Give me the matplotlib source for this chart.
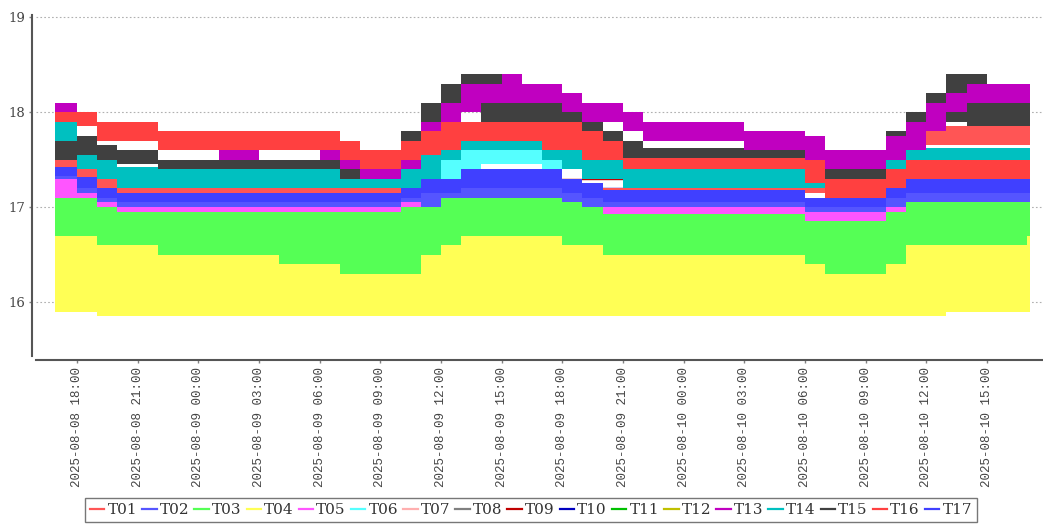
import matplotlib
matplotlib.use("Agg")
import matplotlib.pyplot as plt
import matplotlib.dates as mdates
from matplotlib.lines import Line2D
import numpy as np
import pandas as pd

# ---------------- data (visual envelopes) ----------------
# hourly intervals: first starts 2025-08-08 16:55, then every full hour 18:00 ... 2025-08-10 17:00
start_time = "2025-08-08 16:55"
hourly_start = "2025-08-08 18:00"
hourly_end = "2025-08-10 17:00"
end_time = "2025-08-10 17:08"

series_names = ["T01", "T02", "T03", "T04", "T05", "T06", "T07", "T08", "T09",
                "T10", "T11", "T12", "T13", "T14", "T15", "T16", "T17"]
series_colors = ["#FF5555", "#5555FF", "#55FF55", "#FFFF55", "#FF55FF", "#55FFFF",
                 "#FFAFAF", "#808080", "#C00000", "#0000C0", "#00C000", "#C0C000",
                 "#C000C0", "#00C0C0", "#404040", "#FF4040", "#4040FF"]

T13_lo = [18.0, 17.85, 17.75, 17.7, 17.7, 17.7, 17.7, 17.6, 17.5, 17.5, 17.6, 17.6, 17.6, 17.5,
          17.4, 17.3, 17.3, 17.4, 17.7, 17.9, 18.0, 18.1, 18.1, 18.1, 18.1, 18.0, 17.9, 17.9,
          17.8, 17.7, 17.7, 17.7, 17.7, 17.7, 17.6, 17.6, 17.6, 17.5, 17.4, 17.4, 17.4, 17.5,
          17.6, 17.8, 18.0, 18.1, 18.1, 18.1, 18.1]
T13_hi = [18.1, 17.95, 17.85, 17.8, 17.8, 17.8, 17.8, 17.7, 17.6, 17.6, 17.7, 17.7, 17.7, 17.6,
          17.5, 17.4, 17.4, 17.5, 17.9, 18.1, 18.3, 18.3, 18.4, 18.3, 18.3, 18.2, 18.1, 18.1,
          18.0, 17.9, 17.9, 17.9, 17.9, 17.9, 17.8, 17.8, 17.8, 17.75, 17.6, 17.6, 17.6, 17.75,
          17.9, 18.1, 18.2, 18.3, 18.3, 18.3, 18.3]

T15_lo = [17.5, 17.55, 17.5, 17.45, 17.45, 17.4, 17.4, 17.4, 17.4, 17.4, 17.4, 17.4, 17.4, 17.4,
          17.3, 17.3, 17.3, 17.55, 17.8, 18.0, 18.0, 17.9, 17.9, 17.9, 17.9, 17.8, 17.7, 17.6,
          17.5, 17.5, 17.5, 17.5, 17.5, 17.5, 17.5, 17.5, 17.5, 17.4, 17.3, 17.3, 17.3, 17.55,
          17.7, 17.9, 17.9, 17.85, 17.85, 17.85, 17.85]
T15_hi = [17.7, 17.75, 17.65, 17.6, 17.6, 17.5, 17.5, 17.5, 17.5, 17.5, 17.5, 17.5, 17.5, 17.5,
          17.5, 17.4, 17.4, 17.8, 18.1, 18.3, 18.4, 18.4, 18.4, 18.2, 18.2, 18.0, 17.9, 17.8,
          17.7, 17.62, 17.62, 17.62, 17.62, 17.62, 17.62, 17.62, 17.62, 17.5, 17.4, 17.4, 17.4, 17.8,
          18.0, 18.2, 18.4, 18.4, 18.1, 18.1, 18.1]

T16_lo = [17.9, 17.85, 17.7, 17.7, 17.7, 17.6, 17.6, 17.6, 17.6, 17.6, 17.6, 17.6, 17.6, 17.6,
          17.5, 17.4, 17.4, 17.5, 17.55, 17.6, 17.7, 17.7, 17.7, 17.7, 17.6, 17.6, 17.5, 17.5,
          17.4, 17.4, 17.4, 17.4, 17.4, 17.4, 17.4, 17.4, 17.4, 17.25, 17.1, 17.1, 17.1, 17.2,
          17.3, 17.3, 17.3, 17.3, 17.3, 17.3, 17.3]
T16_hi = [18.0, 18.0, 17.9, 17.9, 17.9, 17.8, 17.8, 17.8, 17.8, 17.8, 17.8, 17.8, 17.8, 17.8,
          17.7, 17.6, 17.6, 17.7, 17.8, 17.9, 17.9, 17.9, 17.9, 17.9, 17.9, 17.9, 17.8, 17.7,
          17.52, 17.52, 17.52, 17.52, 17.52, 17.52, 17.52, 17.52, 17.52, 17.5, 17.3, 17.3, 17.3, 17.4,
          17.5, 17.5, 17.5, 17.5, 17.5, 17.5, 17.5]

T01_lo = [17.42, 17.32, 17.2] + [17.15] * 38 + [17.2, 17.6] + [17.65] * 6
T01_hi = [17.5, 17.42, 17.3] + [17.2] * 38 + [17.3, 17.75] + [17.85] * 6

T14_lo = [17.6, 17.4, 17.3] + [17.2] * 15 + [17.3, 17.5, 17.6, 17.6, 17.6, 17.6, 17.5, 17.4,
          17.3, 17.3] + [17.2] * 10 + [17.3, 17.3, 17.3, 17.4] + [17.5] * 7
T14_hi = [17.9, 17.6, 17.5] + [17.42] * 14 + [17.5, 17.55, 17.65, 17.7, 17.7, 17.7, 17.7, 17.6,
          17.6, 17.5, 17.5] + [17.4] * 9 + [17.3, 17.4, 17.4, 17.4, 17.5] + [17.62] * 7

T06_lo = [16.9] * 17 + [17.05, 17.2, 17.3, 17.4, 17.45, 17.45, 17.45, 17.4, 17.2, 17.1] + [16.9] * 22
T06_hi = [17.0] * 17 + [17.15, 17.3, 17.5, 17.6, 17.6, 17.6, 17.6, 17.5, 17.3, 17.2] + [17.0] * 22

T02_lo = [17.3, 17.15, 17.05] + [17.0] * 14 + [17.05, 17.0, 17.1] + [17.1] * 5 + [17.05, 17.0] \
         + [17.0] * 10 + [16.95] * 4 + [17.0, 17.05] + [17.05] * 6
T02_hi = [17.36, 17.25, 17.13] + [17.08] * 14 + [17.12, 17.15, 17.2] + [17.25] * 5 + [17.15, 17.1] \
         + [17.1] * 10 + [17.05] * 4 + [17.1, 17.15] + [17.15] * 6
T17_lo = [17.33, 17.2, 17.1] + [17.05] * 14 + [17.1, 17.15, 17.15] + [17.2] * 5 + [17.15, 17.1] \
         + [17.05] * 10 + [17.0] * 4 + [17.1, 17.15] + [17.15] * 6
T17_hi = [17.42, 17.32, 17.2] + [17.15] * 14 + [17.2, 17.3, 17.3] + [17.4] * 5 + [17.3, 17.25] \
         + [17.18] * 10 + [17.1] * 4 + [17.2, 17.3] + [17.3] * 6

T05_lo = [17.1, 17.1, 17.0] + [16.95] * 14 + [17.0, 17.05] + [17.1] * 7 + [17.0] \
         + [16.93] * 10 + [16.85] * 4 + [16.95] + [17.05] * 7
T05_hi = [17.3, 17.15, 17.05] + [17.0] * 14 + [17.05, 17.1] + [17.15] * 7 + [17.05] \
         + [17.0] * 10 + [16.95] * 4 + [17.0] + [17.1] * 7

T03_lo = [16.7, 16.7, 16.6, 16.6, 16.6, 16.5, 16.5, 16.5, 16.5, 16.5, 16.5, 16.4, 16.4, 16.4,
          16.3, 16.3, 16.3, 16.3, 16.5, 16.6, 16.7, 16.7, 16.7, 16.7, 16.7, 16.6, 16.6, 16.5,
          16.5, 16.5, 16.5, 16.5, 16.5, 16.5, 16.5, 16.5, 16.5, 16.4, 16.3, 16.3, 16.3, 16.4,
          16.6, 16.6, 16.6, 16.6, 16.6, 16.6, 16.7]
T03_hi = [17.1, 17.1, 17.0, 16.97, 16.97, 16.97, 16.97, 16.97, 16.97, 16.97, 16.97, 16.97, 16.97, 16.97,
          16.97, 16.97, 16.97, 17.0, 17.0, 17.1, 17.1, 17.1, 17.1, 17.1, 17.1, 17.05, 17.0, 16.95,
          16.95, 16.95, 16.95, 16.95, 16.95, 16.95, 16.95, 16.95, 16.95, 16.88, 16.88, 16.88, 16.88, 17.0,
          17.05, 17.05, 17.05, 17.05, 17.05, 17.05, 17.05]

T04_lo = [15.9, 15.9] + [15.85] * 42 + [15.9] * 5
T04_hi = [16.75, 16.75, 16.65, 16.65, 16.65, 16.55, 16.55, 16.55, 16.55, 16.55, 16.55, 16.45, 16.45, 16.45,
          16.35, 16.35, 16.35, 16.35, 16.55, 16.65, 16.75, 16.75, 16.75, 16.75, 16.75, 16.65, 16.65, 16.55,
          16.55, 16.55, 16.55, 16.55, 16.55, 16.55, 16.55, 16.55, 16.55, 16.45, 16.35, 16.35, 16.35, 16.45,
          16.65, 16.65, 16.65, 16.65, 16.65, 16.65, 16.75]

# series that are almost completely hidden behind the others (6-hourly values)
hidden_start, hidden_end = "2025-08-08 17:00", "2025-08-10 17:00"
T07 = [16.9, 16.8, 16.8, 16.8, 16.9, 16.8, 16.8, 16.8, 16.9]
T08 = [16.3, 16.2, 16.2, 16.3, 16.3, 16.2, 16.2, 16.3, 16.3]
T09 = [17.4, 17.3, 17.3, 17.2, 17.3, 17.3, 17.3, 17.4, 17.4]
T10 = [17.1, 17.1, 17.05, 17.1, 17.2, 17.1, 17.05, 17.1, 17.2]
T11 = [16.8, 16.7, 16.7, 16.7, 16.8, 16.7, 16.6, 16.7, 16.8]
T12 = [16.4, 16.3, 16.2, 16.3, 16.4, 16.3, 16.2, 16.3, 16.4]

y_ticks = [16, 17, 18, 19]
x_tick_start, x_tick_end = "2025-08-08 18:00", "2025-08-10 15:00"

# ---------------- figure ----------------
W, H = 1043, 525
fig = plt.figure(figsize=(W / 100, H / 100), dpi=100)
ax = fig.add_axes([36 / W, 1 - 356 / H, (1049 - 36) / W, (356 - 15) / H])

# spines first (set_position resets the ticks)
for s in ["top", "right"]:
    ax.spines[s].set_visible(False)
for s in ["left", "bottom"]:
    ax.spines[s].set_position(("outward", 3))
    ax.spines[s].set_color("#555555")
    ax.spines[s].set_linewidth(1.5)

times = pd.DatetimeIndex([start_time]).append(
    pd.date_range(hourly_start, hourly_end, freq="h"))
xs = mdates.date2num(times.append(pd.DatetimeIndex([end_time])).to_pydatetime())

bands = {"T13": (T13_lo, T13_hi), "T15": (T15_lo, T15_hi), "T16": (T16_lo, T16_hi),
         "T01": (T01_lo, T01_hi), "T14": (T14_lo, T14_hi), "T06": (T06_lo, T06_hi),
         "T02": (T02_lo, T02_hi), "T17": (T17_lo, T17_hi), "T05": (T05_lo, T05_hi),
         "T03": (T03_lo, T03_hi), "T04": (T04_lo, T04_hi)}
for k, (lo, hi) in bands.items():
    assert len(lo) == len(times) and len(hi) == len(times), (k, len(lo), len(hi))

color_of = dict(zip(series_names, series_colors))

hidden_t = mdates.date2num(pd.date_range(hidden_start, hidden_end, freq="6h").to_pydatetime())
for name, vals in [("T07", T07), ("T08", T08), ("T09", T09), ("T10", T10), ("T11", T11), ("T12", T12)]:
    ax.step(hidden_t, vals, where="post", color=color_of[name], lw=1.0, zorder=1)

draw_order = ["T06", "T04", "T03", "T05", "T01", "T14", "T02", "T17", "T15", "T13", "T16"]
for z, name in enumerate(draw_order):
    lo, hi = bands[name]
    lo = np.append(lo, lo[-1])
    hi = np.append(hi, hi[-1])
    ax.fill_between(xs, lo, hi, step="post", color=color_of[name], lw=0,
                    antialiased=False, zorder=2 + z)

# axes styling
ax.set_xlim(mdates.date2num(pd.Timestamp("2025-08-08 15:58:15").to_pydatetime()),
            mdates.date2num(pd.Timestamp("2025-08-10 18:04:30").to_pydatetime()))
ax.set_ylim(15.432, 19.021)
ax.set_yticks(y_ticks)
ax.set_yticklabels([str(v) for v in y_ticks], family="DejaVu Serif", fontsize=9.5, color="#444444")
xt = pd.date_range(x_tick_start, x_tick_end, freq="3h")
ax.set_xticks(mdates.date2num(xt.to_pydatetime()))
ax.set_xticklabels([t.strftime("%Y-%m-%d %H:%M") for t in xt], rotation=90,
                   family="Liberation Mono", fontsize=9, color="#444444")
ax.tick_params(axis="both", length=2, width=1, color="#808080", pad=3)
ax.yaxis.grid(True, color="#b0b0b0", linestyle=(0, (1.5, 2)), linewidth=0.8)
ax.set_axisbelow(True)

handles = [Line2D([], [], color=c, lw=1.6) for c in series_colors]
leg = fig.legend(handles, series_names, loc="center", bbox_to_anchor=(531 / W, 1 - 510 / H),
                 ncol=17, frameon=True, fancybox=False, edgecolor="#555555",
                 prop={"family": "DejaVu Serif", "size": 11}, handlelength=0.95,
                 handletextpad=0.2, columnspacing=0.33, borderpad=0.3, borderaxespad=0)
leg.get_frame().set_linewidth(1.0)
for t in leg.get_texts():
    t.set_color("#333333")

fig.savefig("out.png", dpi=100)
